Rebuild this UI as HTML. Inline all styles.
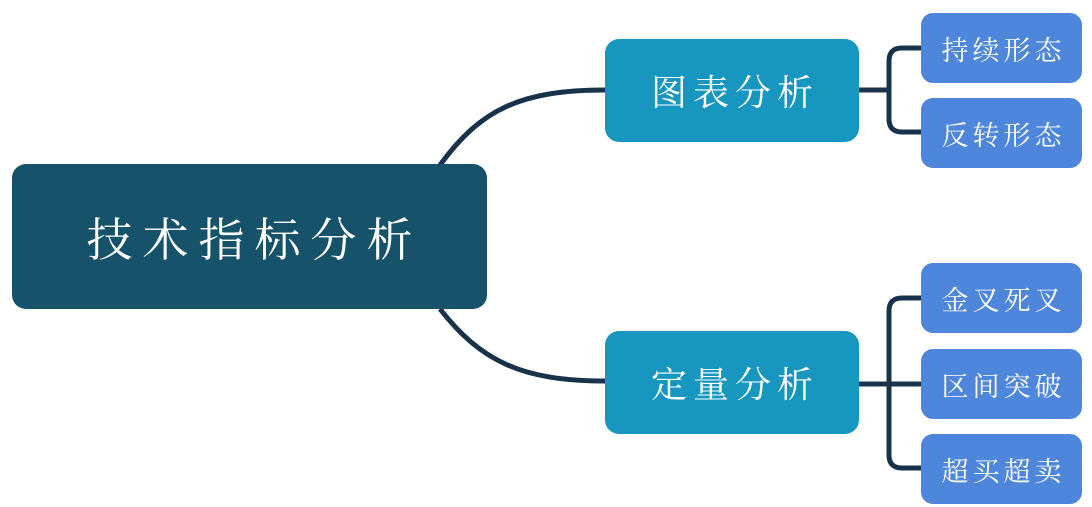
<!DOCTYPE html>
<html><head><meta charset="utf-8"><style>
html,body{margin:0;padding:0;background:#fff;}
body{width:1092px;height:507px;position:relative;overflow:hidden;font-family:"Liberation Serif","Noto Serif CJK SC",serif;}
.n{position:absolute;color:#fff;display:flex;align-items:center;justify-content:center;box-sizing:border-box;}
.root{left:12px;top:164px;width:475px;height:145px;background:#16526a;border-radius:14px;font-size:46px;letter-spacing:10px;padding-left:10px;}
.mid{left:605px;width:254px;height:103px;background:#1797c0;border-radius:14px;font-size:36px;letter-spacing:6px;padding-left:6px;}
.leaf{left:921px;width:161px;height:70px;background:#4e86dc;border-radius:12px;font-size:27px;letter-spacing:4px;padding-left:4px;}
svg{position:absolute;left:0;top:0;}
</style></head><body>
<svg width="1092" height="507">
<g fill="none" stroke="#17324a" stroke-width="5">
<path d="M440 165 C480 110 520 90 605 90"/>
<path d="M440 309 C480 360 520 381 605 381"/>
<path d="M859 90 H889"/>
<path d="M921 48 H902 Q889 48 889 61 V119 Q889 132 902 132 H921"/>
<path d="M859 384 H921"/>
<path d="M921 298 H902 Q889 298 889 311 V455 Q889 468 902 468 H921"/>
</g>
</svg>
<div class="n root">技术指标分析</div>
<div class="n mid" style="top:39px">图表分析</div>
<div class="n mid" style="top:331px">定量分析</div>
<div class="n leaf" style="top:13px">持续形态</div>
<div class="n leaf" style="top:98px">反转形态</div>
<div class="n leaf" style="top:263px">金叉死叉</div>
<div class="n leaf" style="top:349px">区间突破</div>
<div class="n leaf" style="top:434px">超买超卖</div>
</body></html>
